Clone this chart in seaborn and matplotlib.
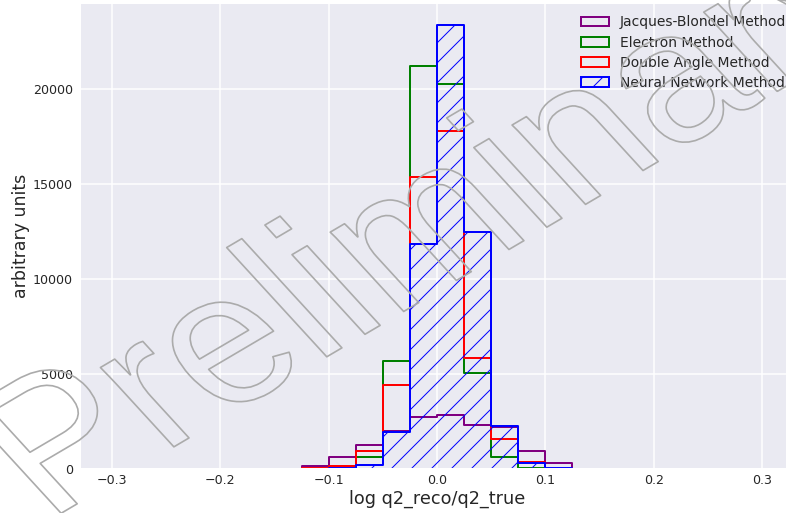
import numpy as np
import pandas as pd
import matplotlib
matplotlib.use("Agg")
import matplotlib.pyplot as plt
import matplotlib.patheffects as pe
from matplotlib.transforms import Affine2D
import seaborn as sns

# ---- data (bin contents) ----
bin_edges = [round(-0.3 + 0.025 * i, 4) for i in range(25)]
jb_counts = [0, 0, 0, 0, 0, 0, 0, 150, 650, 1260, 2000, 2750,
             2825, 2300, 2200, 965, 300, 0, 0, 0, 0, 0, 0, 0]
el_counts = [0, 0, 0, 0, 0, 0, 0, 10, 80, 615, 5680, 21230,
             20245, 5036, 615, 70, 5, 0, 0, 0, 0, 0, 0, 0]
da_counts = [0, 0, 0, 0, 0, 0, 0, 30, 160, 965, 4420, 15385,
             17800, 5860, 1600, 370, 30, 0, 0, 0, 0, 0, 0, 0]
nn_counts = [0, 0, 0, 0, 0, 0, 0, 10, 30, 200, 1950, 11840,
             23355, 12470, 2260, 300, 35, 0, 0, 0, 0, 0, 0, 0]
labels = ["Jacques-Blondel Method", "Electron Method",
          "Double Angle Method", "Neural Network Method"]
colors = ["purple", "green", "red", "blue"]
hatches = [None, None, None, "//"]
x_ticks = [-0.3, -0.2, -0.1, 0.0, 0.1, 0.2, 0.3]
y_ticks = [0, 5000, 10000, 15000, 20000]


class SlantedOutline(pe.AbstractPathEffect):
    """Draw text glyphs as an outline only, back-slanted about the baseline."""

    def __init__(self, shear_deg, color, linewidth):
        super().__init__()
        self.shear = shear_deg
        self.color = color
        self.lw = linewidth

    def draw_path(self, renderer, gc, tpath, affine, rgbFace=None):
        gc0 = renderer.new_gc()
        gc0.copy_properties(gc)
        gc0.set_foreground(self.color)
        gc0.set_linewidth(self.lw)
        gc0.set_alpha(1.0)
        renderer.draw_path(gc0, tpath, Affine2D().skew_deg(self.shear, 0) + affine, None)
        gc0.restore()


sns.set_theme(style="darkgrid")
plt.rcParams["hatch.linewidth"] = 0.6
plt.rcParams["grid.linewidth"] = 0.9

W, H, DPI = 786, 513, 120
fig = plt.figure(figsize=(W / DPI, H / DPI), dpi=DPI)
ax = fig.add_axes([79.5 / W, (H - 469) / H, (794.5 - 79.5) / W, (469 - 3) / H])

edges = np.array(bin_edges)
centers = (edges[:-1] + edges[1:]) / 2
for counts, lab, col, hat in zip([jb_counts, el_counts, da_counts, nn_counts],
                                 labels, colors, hatches):
    df = pd.DataFrame({"x": centers, "w": np.array(counts, dtype=float)})
    kws = dict(facecolor="none", edgecolor=col, linewidth=1.2)
    if hat:
        kws["hatch"] = hat
    sns.histplot(data=df, x="x", weights="w", bins=bin_edges, element="step",
                 fill=True, ax=ax, label=lab, color=col, **kws)

ax.set_xlabel("log q2_reco/q2_true", fontsize=10.6, labelpad=1.5)
ax.set_ylabel("arbitrary units", fontsize=10.4, labelpad=1.5)
ax.set_xticks(x_ticks)
ax.set_yticks(y_ticks)
ax.tick_params(axis="both", length=0)
ax.tick_params(axis="x", labelsize=7.6, pad=3)
ax.tick_params(axis="y", labelsize=7.6, pad=4)
ax.legend(loc="upper right", frameon=False, fontsize=8.3, labelspacing=0.44,
          bbox_to_anchor=(1.0 + 4 / 715, 1.0))

# watermark (outlined, back-slanted, rotated)
fig.text(47 / W, 1 - 521.6 / H, "Preliminary", fontsize=120,
         family="Liberation Sans", rotation=30.5,
         color="#b0b0b0", ha="left", va="baseline", rotation_mode="anchor",
         zorder=10,
         path_effects=[SlantedOutline(-12, "#ababab", 1.0)])

fig.savefig("out.png", dpi=DPI)
